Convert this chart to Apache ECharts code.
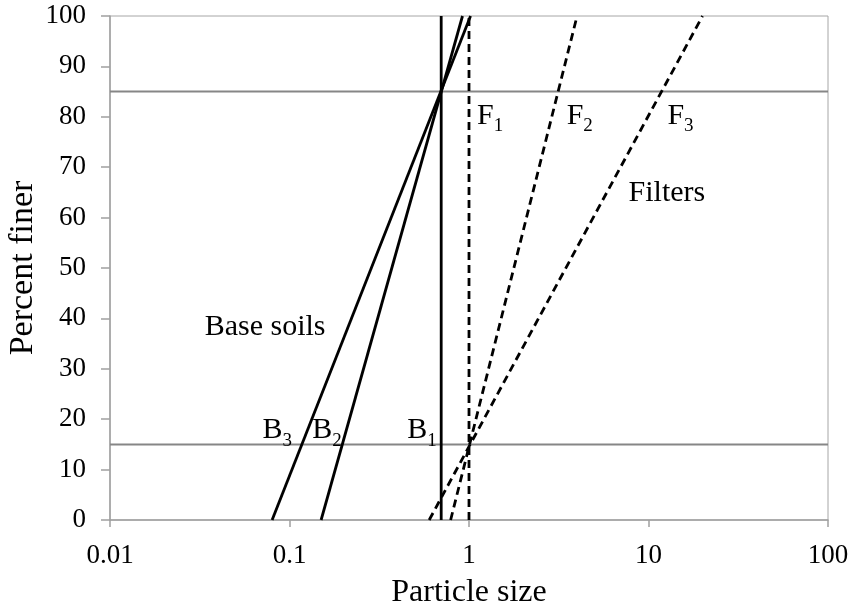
<!DOCTYPE html>
<html>
<head>
<meta charset="utf-8">
<script src="https://cdn.jsdelivr.net/npm/echarts@6/dist/echarts.min.js"></script>
<style>html,body{margin:0;padding:0;background:#fff}#c{width:851px;height:608px}</style>
</head>
<body>
<div id="c"></div>
<script>
// Axis ticks
const xTicks = [0.01, 0.1, 1, 10, 100];
const yTicks = [0, 10, 20, 30, 40, 50, 60, 70, 80, 90, 100];

// Base soil gradation lines (particle size, percent finer)
const B1 = [[0.7, 0], [0.7, 100]];
const B2 = [[0.15, 0], [0.92, 100]];
const B3 = [[0.08, 0], [1.02, 100]];

// Filter gradation lines
const F1 = [[1, 0], [1, 100]];
const F2 = [[0.79, 0], [4, 100]];
const F3 = [[0.6, 0], [20, 100]];

// Reference levels (D15 and D85)
const line15 = [[0.01, 15], [100, 15]];
const line85 = [[0.01, 85], [100, 85]];

// Annotations: main text, subscript, anchor (x, y)
const labelMain = ['B', 'B', 'B', 'F', 'F', 'F', 'Base soils', 'Filters'];
const labelSub  = ['3', '2', '1', '1', '2', '3', '', ''];
const labelX    = [0.0708, 0.134, 0.453, 1.108, 3.50, 12.75, 0.0337, 7.74];
const labelY    = [17.8, 17.8, 17.8, 80.2, 80.2, 80.2, 38.3, 64.8];

const FONT = '"Liberation Serif", "Times New Roman", serif';

const chart = echarts.init(document.getElementById('c'));

function solid(data) {
  return { type: 'line', data, symbol: 'none', silent: true,
    lineStyle: { color: '#000', width: 2.8 }, z: 3 };
}
function dashed(data) {
  return { type: 'line', data, symbol: 'none', silent: true,
    lineStyle: { color: '#000', width: 2.8, type: [8, 5] }, z: 3 };
}
function gray(data) {
  return { type: 'line', data, symbol: 'none', silent: true,
    lineStyle: { color: '#868686', width: 2 }, z: 2 };
}

const annData = labelMain.map((m, i) => ({
  value: [labelX[i], labelY[i]],
  label: { formatter: labelSub[i] ? '{m|' + m + '}{s|' + labelSub[i] + '}' : '{m|' + m + '}' }
}));

chart.setOption({
  animation: false,
  backgroundColor: '#fff',
  grid: { left: 110, right: 23, top: 16, bottom: 88, show: true,
    containLabel: false, outerBoundsMode: 'none',
    borderColor: '#a6a6a6', borderWidth: 1, backgroundColor: 'transparent' },
  xAxis: {
    type: 'log', logBase: 10, min: xTicks[0], max: xTicks[xTicks.length - 1],
    name: 'Particle size', nameLocation: 'middle', nameGap: 57,
    nameMoveOverlap: false,
    nameTextStyle: { fontFamily: FONT, fontSize: 32, color: '#000' },
    axisLine: { lineStyle: { color: '#a0a0a0', width: 1.5 } },
    axisTick: { show: true, length: 7, lineStyle: { color: '#a0a0a0', width: 1.5 } },
    axisLabel: { fontFamily: FONT, fontSize: 27, color: '#000', margin: 22,
      formatter: v => String(v) },
    splitLine: { show: false }, minorTick: { show: false }
  },
  yAxis: {
    type: 'value', min: yTicks[0], max: yTicks[yTicks.length - 1], interval: 10,
    name: 'Percent finer', nameLocation: 'middle', nameGap: 70,
    nameMoveOverlap: false,
    nameTextStyle: { fontFamily: FONT, fontSize: 34, color: '#000' },
    axisLine: { show: true, lineStyle: { color: '#a0a0a0', width: 1.5 } },
    axisTick: { show: true, length: 9, lineStyle: { color: '#a0a0a0', width: 1.5 } },
    axisLabel: { fontFamily: FONT, fontSize: 27, color: '#000', margin: 24 },
    splitLine: { show: false }
  },
  series: [
    gray(line15), gray(line85),
    solid(B1), solid(B2), solid(B3),
    dashed(F1), dashed(F2), dashed(F3),
    {
      type: 'scatter', data: annData, symbolSize: 0, silent: true, z: 5,
      itemStyle: { opacity: 1 },
      label: {
        show: true, position: [0, 0], align: 'left', verticalAlign: 'middle',
        color: '#000', opacity: 1,
        rich: {
          m: { fontFamily: FONT, fontSize: 30, color: '#000', lineHeight: 30, verticalAlign: 'bottom' },
          s: { fontFamily: FONT, fontSize: 19, color: '#000', lineHeight: 30, verticalAlign: 'bottom', padding: [0, 0, -5, 0] }
        }
      }
    }
  ]
});
</script>
</body>
</html>
